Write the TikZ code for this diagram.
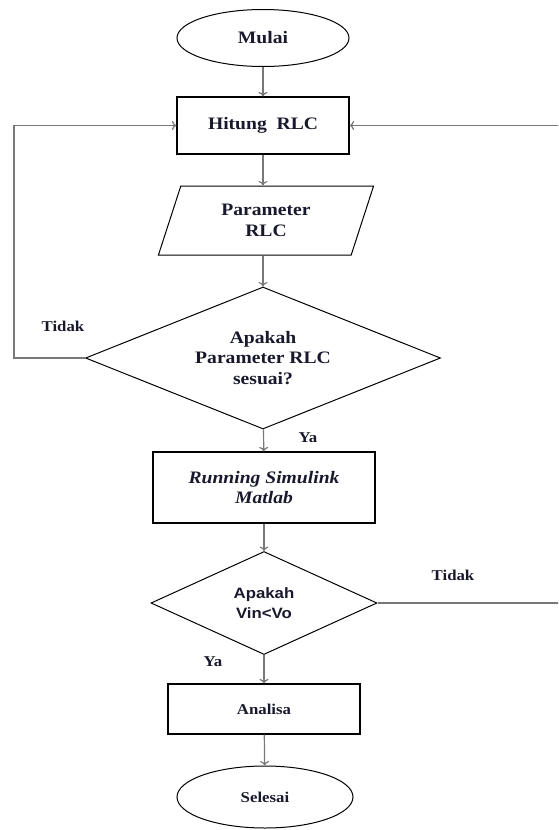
\documentclass[tikz,border=0pt]{standalone}
\usepackage{fontspec}
\setmainfont{Liberation Serif}[FakeStretch=1.12]
\newfontfamily\vinfont{Liberation Sans}[FakeStretch=1.12]
\usetikzlibrary{shapes.geometric, arrows.meta}
\definecolor{garis}{RGB}{120,120,120}
\definecolor{teks}{RGB}{25,25,45}

\begin{document}
\begin{tikzpicture}[x=1pt, y=-1pt,
    every node/.style={text=teks, font=\bfseries\fontsize{17.5}{20.5}\selectfont},
    terminal/.style={draw, ellipse, line width=1pt},
    proses/.style={draw, rectangle, line width=1.2pt, align=center},
    keputusan/.style={draw, diamond, line width=1pt, align=center, inner sep=1pt},
    flow/.style={-{To[length=4.5pt, width=9pt]}, line width=1.2pt, garis},
    ket/.style={font=\bfseries\fontsize{15}{17}\selectfont}]
      \useasboundingbox (0,0) rectangle (558,830);
      \clip (0,0) rectangle (558,830);

      % Shapes
      \node[terminal, minimum width=172pt, minimum height=57pt] (mulai) at (263,38) {Mulai};
      \node[proses, minimum width=172pt, minimum height=57pt] (hitung) at (263,125.5) {Hitung\ \ RLC};
      \node[draw, trapezium, trapezium left angle=72, trapezium right angle=108, line width=1pt,
            minimum width=202pt, minimum height=69pt, align=center] (param) at (266,220.5) {Parameter\\RLC};
      \node[keputusan, aspect=2.5, minimum width=355pt, minimum height=142pt] (cek1) at (263,358)
            {Apakah\\Parameter RLC\\sesuai?};
      \node[proses, minimum width=222pt, minimum height=71pt] (simulink) at (264,487.5)
            {\itshape Running Simulink\\\itshape Matlab};
      \node[keputusan, aspect=2.2, minimum width=226pt, minimum height=103pt] (cek2) at (264,603)
            {\vinfont\fontsize{15}{20}\selectfont Apakah\\\vinfont\fontsize{15}{20}\selectfont Vin<Vo};
      \node[proses, minimum width=192pt, minimum height=50pt, ket] (analisa) at (264,709) {Analisa};
      \node[terminal, minimum width=176pt, minimum height=62pt, ket] (selesai) at (265,797) {Selesai};

      % Return points
      \coordinate (kiri) at (14,358);
      \coordinate (kanan) at (566,603);

      % Flow
      \draw[flow] (mulai) -- (hitung);
      \draw[flow] (hitung.south) -- (hitung.south |- param.north);
      \draw[flow] (cek1.north |- param.south) -- (cek1.north);
      \draw[flow] (cek1) -- (simulink);
      \draw[flow] (simulink) -- (cek2);
      \draw[flow] (cek2) -- (analisa);
      \draw[flow] (analisa) -- (selesai);
      \draw[flow] (cek1.west) -- (kiri) |- (hitung.west);
      \draw[flow] (cek2.east) -- (kanan) |- (hitung.east);

      % Labels
      \node[ket] (tidak1) at (63,326) {Tidak};
      \node[ket] (ya1) at (308,438) {Ya};
      \node[ket] (tidak2) at (453,575) {Tidak};
      \node[ket] (ya2) at (213,662) {Ya};
    \end{tikzpicture}
\end{document}
